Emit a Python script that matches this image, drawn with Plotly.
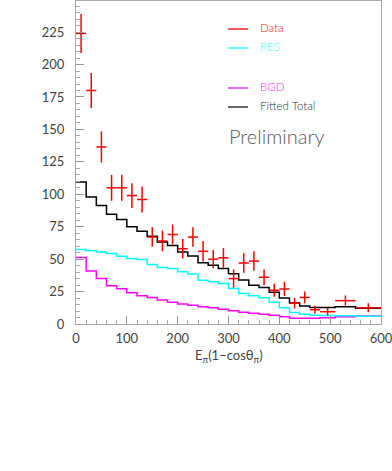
import plotly.graph_objects as go

# Bin edges of the histograms
bin_edges = [0, 20, 40, 60, 80, 100, 120, 140, 160, 180, 200, 220, 240, 260, 280,
             300, 320, 340, 360, 380, 400, 420, 440, 460, 480, 510, 550, 600]

fitted_total = [109.5, 98, 91.3, 84.6, 80.5, 75, 71.5, 67.7, 63.3, 60.5, 55.5, 52.5, 47.2,
                45.2, 42.8, 38.8, 34, 29.8, 28.2, 24.5, 20, 16.2, 13.8, 12.8, 12.8, 13.3, 12.2]
res = [57.4, 56.4, 55.6, 54.4, 52.3, 50.5, 49.7, 45.9, 43.6, 42.8, 40.3, 38.5, 33.8,
       32.6, 31.3, 27.4, 23.6, 21.8, 20.3, 16.8, 12.5, 8.9, 7.6, 6.8, 6.5, 6.4, 6.0]
bgd = [51.3, 40.8, 35.1, 29.5, 27.2, 24.1, 21.8, 20.5, 18.5, 16.8, 15.4, 14.4, 13.3,
       12.6, 11.3, 10.2, 9.0, 8.2, 7.6, 6.8, 5.6, 4.4, 4.4, 4.4, 4.9, 5.6, 6.2]

data_x = [10, 30, 50, 70, 90, 110, 130, 150, 170, 190, 210, 230, 250, 270, 290, 310,
          330, 350, 370, 390, 410, 430, 450, 470, 495, 530, 575]
data_xerr = [10] * 24 + [15, 20, 25]
data_y = [224, 180, 136.5, 105, 105, 99, 96, 67, 64, 69, 58, 67, 56, 50, 51, 35,
          47, 48.5, 36, 26, 27, 16, 20.5, 11, 9.5, 18, 12.5]
data_yerr = [15, 13.5, 12, 10, 10, 9.5, 10, 7.5, 8, 7.7, 7.5, 7.5, 8, 7, 7.5, 7,
             7.5, 7.5, 6, 5, 5.5, 4, 4.5, 3, 3, 4, 3.5]

legend_labels = ["Data", "RES", "BGD", "Fitted Total"]
legend_colors = ["#ff2020", "#33ffff", "#ff33ff", "#333333"]
x_title = "E<sub>π</sub>(1−cosθ<sub>π</sub>)"
stamp = "Preliminary"

fig = go.Figure()


def step(vals):
    return vals + [vals[-1]]


for vals, col in [(bgd, "#ff00ff"), (res, "#00ffff"), (fitted_total, "#000000")]:
    fig.add_trace(go.Scatter(x=bin_edges, y=step(vals), mode="lines",
                             line=dict(color=col, width=1.5, shape="hv"),
                             hoverinfo="skip", showlegend=False))

fig.add_trace(go.Scatter(
    x=data_x, y=data_y, mode="markers",
    marker=dict(size=1, color="#ff0000", opacity=0),
    error_x=dict(type="data", array=data_xerr, color="#ff0000", thickness=1.5, width=0),
    error_y=dict(type="data", array=data_yerr, color="#ff0000", thickness=1.5, width=0),
    showlegend=False))

L, R, T, B = 76, 381, 1, 324
W, H = 392, 471


def px(x):
    return (x - L) / (R - L)


def py(y):
    return (B - y) / (B - T)


leg_y = [27, 46, 86, 105]
for lab, col, yy in zip(legend_labels, legend_colors, leg_y):
    fig.add_shape(type="line", xref="paper", yref="paper",
                  x0=px(228), x1=px(248), y0=py(yy + 2), y1=py(yy + 2),
                  line=dict(color=col, width=1.5))
    fig.add_annotation(xref="paper", yref="paper", x=px(258), y=py(yy),
                       text=lab, showarrow=False, xanchor="left", yanchor="middle",
                       font=dict(family="Lato", size=11.5, color=col, weight=300))

fig.add_annotation(xref="paper", yref="paper", x=px(227), y=py(136),
                   text=stamp, showarrow=False, xanchor="left", yanchor="middle",
                   font=dict(family="Lato", size=20, color="#5a5a5a", weight=300))

fig.add_annotation(xref="paper", yref="paper", x=0.5, y=py(356),
                   text=x_title, showarrow=False, xanchor="center", yanchor="middle",
                   font=dict(family="Lato", size=13, color="#444444"))

fig.update_layout(
    width=W, height=H,
    margin=dict(l=L, r=W - R, t=T, b=H - B),
    paper_bgcolor="white", plot_bgcolor="white",
    showlegend=False,
)
fig.update_xaxes(range=[0, 600], tickmode="linear", tick0=0, dtick=100,
                 ticks="inside", ticklen=8, tickcolor="#999999", tickwidth=1,
                 minor=dict(ticks="inside", dtick=20, ticklen=4, tickcolor="#aaaaaa"),
                 showgrid=False, zeroline=False, showline=True, mirror=True,
                 linecolor="#aaaaaa", linewidth=1,
                 tickfont=dict(family="Lato", size=13, color="#444444"),
                 ticklabelstandoff=2, ticklabeloverflow="allow", automargin=False)
fig.update_yaxes(range=[0, 249], tickmode="linear", tick0=0, dtick=25,
                 ticks="inside", ticklen=8, tickcolor="#999999", tickwidth=1,
                 minor=dict(ticks="inside", dtick=5, ticklen=4, tickcolor="#aaaaaa"),
                 showgrid=False, zeroline=False, showline=True, mirror=True,
                 linecolor="#aaaaaa", linewidth=1,
                 tickfont=dict(family="Lato", size=13, color="#444444"),
                 ticklabelstandoff=8, ticklabeloverflow="allow", automargin=False)

fig.write_html("out.html", config={"displayModeBar": False},
               post_script="document.body.style.margin='0';")
